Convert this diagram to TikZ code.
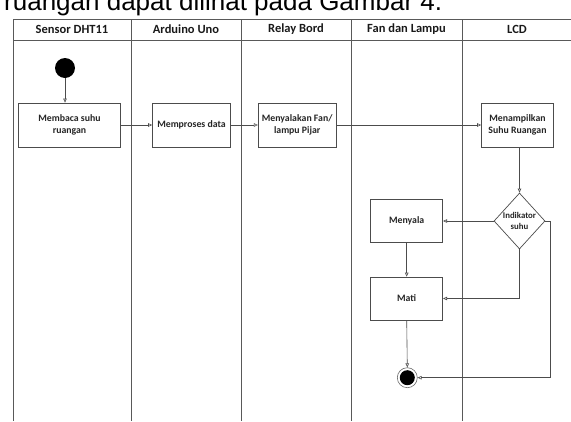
\documentclass[tikz,border=0pt]{standalone}
\usepackage{fontspec}
\setmainfont{Carlito}
\newfontfamily\arialf{Liberation Sans}
\usetikzlibrary{shapes.geometric,arrows.meta}
\begin{document}
\begin{tikzpicture}[x=1pt,y=-1pt,
  lane/.style={draw=black!65, line width=0.8pt},
  hdr/.style={font=\fontsize{12.5}{14}\selectfont\bfseries, text=black!90, inner sep=0pt},
  act/.style={draw=black!70, line width=0.7pt, fill=white, align=center, font=\fontsize{9.8}{12.4}\selectfont\bfseries, text=black!85, inner sep=0pt},
  conn/.style={draw=black!70, line width=0.6pt, -{Triangle[open,length=4pt,width=3.5pt]}},
]
\useasboundingbox (0,0) rectangle (571,421);
\clip (0,0) rectangle (571,421);
\node[font=\arialf\fontsize{26}{30}\selectfont, anchor=base west, inner sep=0pt] (cap) at (4,10) {ruangan dapat dilihat pada Gambar 4.};
% swimlanes
\draw[lane] (13,19) -- (575,19);
\draw[lane] (13,40) -- (575,40);
\foreach \xx in {13,131,241,351,462} \draw[lane] (\xx,19) -- (\xx,421);
\node[hdr] (h1) at (72,29.5) {Sensor DHT11};
\node[hdr] (h2) at (186,29.5) {Arduino Uno};
\node[hdr] (h3) at (296,29.5) {Relay Bord};
\node[hdr] (h4) at (406.5,29.5) {Fan dan Lampu};
\node[hdr] (h5) at (517,29.5) {LCD};
% nodes
\node[circle, fill=black, minimum size=20pt, inner sep=0pt] (start) at (65,68) {};
\node[act, minimum width=102pt, minimum height=44pt] (n1) at (69.5,125) {Membaca suhu\\ruangan};
\node[act, minimum width=78pt, minimum height=44pt] (n2) at (191.5,125) {Memproses data};
\node[act, minimum width=78pt, minimum height=44pt] (n3) at (297.2,125) {Menyalakan Fan/\\lampu Pijar};
\node[act, minimum width=72pt, minimum height=44pt] (n4) at (517.5,125) {Menampilkan\\Suhu Ruangan};
\node[diamond, draw=black!70, line width=0.7pt, fill=white, minimum width=51pt, minimum height=56pt, inner sep=0pt] (d) at (519.5,221) {};
\node[align=center, font=\fontsize{8.8}{10.8}\selectfont\bfseries, text=black!85, inner sep=0pt] (dt) at (d.center) {Indikator\\suhu};
\node[act, minimum width=72pt, minimum height=43pt] (n5) at (406.7,221) {Menyala};
\node[act, minimum width=72pt, minimum height=43pt] (n6) at (406.7,298.5) {Mati};
\node[circle, draw=black!60, line width=0.6pt, minimum size=20pt, inner sep=0pt] (endo) at (407.3,377.7) {};
\node[circle, fill=black, minimum size=15pt, inner sep=0pt] (endi) at (endo.center) {};
% connectors
\draw[conn] (start.south) -- (n1.north -| start.south);
\draw[conn] (n1.east) -- (n2.west);
\draw[conn] (n2.east) -- (n3.west);
\draw[conn] (n3.east) -- (n4.west);
\draw[conn] (n4.south -| d.north) -- (d.north);
\draw[conn] (d.west) -- (n5.east);
\draw[conn] (n5.south) -- (n6.north);
\draw[conn] (d.south) |- (n6.east);
\draw[conn] (n6.south) -- (endo.north);
\coordinate (rc) at (550,221);
\draw[conn] (d.east) -- (rc) |- (endo.east);
\end{tikzpicture}
\end{document}
